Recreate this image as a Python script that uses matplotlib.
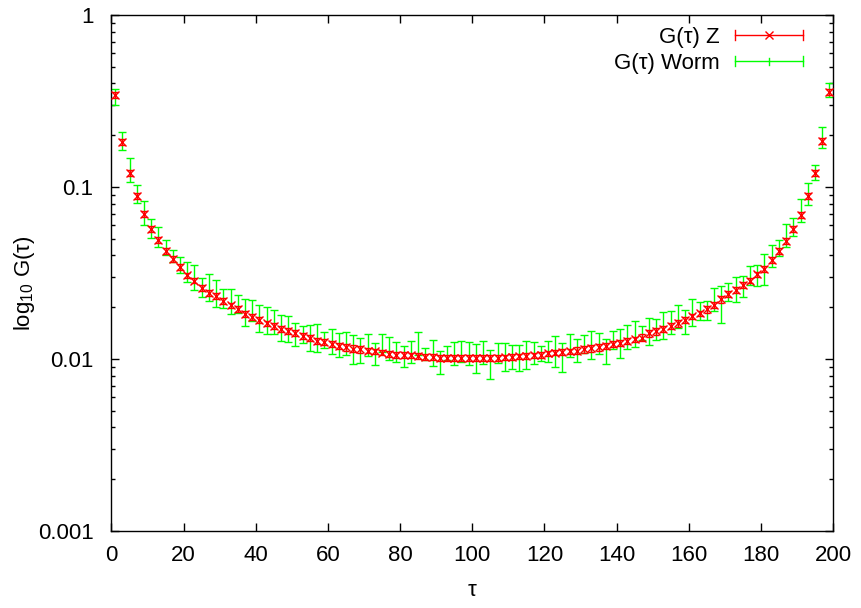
import numpy as np
import matplotlib
matplotlib.use("Agg")
import matplotlib.pyplot as plt
from matplotlib.lines import Line2D
from matplotlib.legend_handler import HandlerBase
from matplotlib.ticker import LogLocator, FixedLocator, NullFormatter

plt.rcParams['font.family'] = ['Liberation Sans', 'DejaVu Sans']
plt.rcParams['mathtext.fontset'] = 'custom'
plt.rcParams['mathtext.rm'] = 'Liberation Sans'
plt.rcParams['mathtext.it'] = 'Liberation Sans'

# ---------------- data ----------------
tau = list(range(1, 200, 2))

g_z = [0.3433, 0.1825, 0.1206, 0.0882, 0.0697, 0.0571, 0.0490, 0.0427, 0.0382, 0.0343,
       0.0306, 0.0286, 0.0259, 0.0243, 0.0232, 0.0217, 0.0205, 0.0196, 0.0183, 0.0176,
       0.0168, 0.0161, 0.0155, 0.0150, 0.0145, 0.0142, 0.0136, 0.0132, 0.0128, 0.0125,
       0.0122, 0.0119, 0.0117, 0.0115, 0.0114, 0.0112, 0.0111, 0.0109, 0.0107, 0.0106,
       0.0106, 0.0105, 0.01039, 0.01031, 0.01026, 0.01017, 0.01012, 0.01008, 0.01008, 0.01008,
       0.01008, 0.01008, 0.01012, 0.01017, 0.01022, 0.01031, 0.01035, 0.01039, 0.0105, 0.0106,
       0.01078, 0.0109, 0.01096, 0.01107, 0.0112, 0.0114, 0.01152, 0.0117, 0.0119, 0.0122,
       0.01243, 0.0127, 0.0130, 0.01329, 0.01408, 0.01446, 0.0150, 0.01555, 0.0161, 0.01686,
       0.01767, 0.01839, 0.0194, 0.0206, 0.0222, 0.0240, 0.0253, 0.0271, 0.0286, 0.0310,
       0.0334, 0.0378, 0.0427, 0.0488, 0.0571, 0.0690, 0.0890, 0.1206, 0.1856, 0.3558]

g_z_err = [0.0140, 0.0073, 0.0048, 0.0035, 0.0028, 0.0023, 0.0020, 0.0017, 0.0015, 0.0014,
           0.0012, 0.0011, 0.0010, 0.0010, 0.0009, 0.0009, 0.0008, 0.0008, 0.0007, 0.0007,
           0.0007, 0.0006, 0.0006, 0.0006, 0.0006, 0.0006, 0.0005, 0.0005, 0.0005, 0.0005,
           0.0005, 0.0005, 0.0005, 0.0005, 0.0005, 0.0004, 0.0004, 0.0004, 0.0004, 0.0004,
           0.0004, 0.0004, 0.0004, 0.0004, 0.0004, 0.0004, 0.0004, 0.0004, 0.0004, 0.0004,
           0.0004, 0.0004, 0.0004, 0.0004, 0.0004, 0.0004, 0.0004, 0.0004, 0.0004, 0.0004,
           0.0004, 0.0004, 0.0004, 0.0004, 0.0005, 0.0005, 0.0005, 0.0005, 0.0005, 0.0005,
           0.0005, 0.0005, 0.0005, 0.0006, 0.0006, 0.0006, 0.0006, 0.0006, 0.0007, 0.0007,
           0.0007, 0.0007, 0.0008, 0.0008, 0.0009, 0.0010, 0.0010, 0.0011, 0.0011, 0.0012,
           0.0013, 0.0015, 0.0017, 0.0020, 0.0023, 0.0028, 0.0036, 0.0048, 0.0074, 0.0142]

g_worm = [0.3356, 0.1862, 0.1272, 0.0918, 0.0716, 0.0578, 0.0517, 0.0447, 0.0398, 0.0354,
          0.0322, 0.0302, 0.0262, 0.0265, 0.0244, 0.0228, 0.0219, 0.0211, 0.0189, 0.0194,
          0.0175, 0.0170, 0.0166, 0.0154, 0.0152, 0.01404, 0.01403, 0.01352, 0.01352, 0.01299,
          0.01282, 0.01221, 0.01249, 0.01158, 0.01137, 0.01216, 0.01078, 0.01240, 0.01165, 0.01114,
          0.01046, 0.01110, 0.01246, 0.01075, 0.01104, 0.00966, 0.01088, 0.01092, 0.01117, 0.01088,
          0.01028, 0.01107, 0.00949, 0.01092, 0.01045, 0.01039, 0.01028, 0.01075, 0.01099, 0.01083,
          0.01117, 0.01125, 0.01042, 0.01211, 0.01132, 0.01228, 0.01224, 0.01237, 0.01125, 0.01299,
          0.01257, 0.01358, 0.01417, 0.01420, 0.01471, 0.01501, 0.01588, 0.01647, 0.01786, 0.01660,
          0.01897, 0.01920, 0.01927, 0.02247, 0.02137, 0.02468, 0.02562, 0.02662, 0.03076, 0.03097,
          0.03388, 0.04003, 0.04443, 0.05265, 0.05899, 0.07384, 0.09204, 0.1219, 0.1957, 0.3695]

g_worm_err = [0.0372, 0.0229, 0.0199, 0.0107, 0.0112, 0.00695, 0.00691, 0.00448, 0.00335, 0.00364,
              0.00430, 0.00512, 0.00322, 0.00471, 0.00424, 0.00289, 0.00366, 0.00248, 0.00328, 0.00277,
              0.00323, 0.00295, 0.00266, 0.00263, 0.00264, 0.00221, 0.00156, 0.00235, 0.00247, 0.00144,
              0.00206, 0.00196, 0.00187, 0.00217, 0.00187, 0.00175, 0.00154, 0.00149, 0.00179, 0.00149,
              0.00143, 0.00160, 0.00191, 0.00083, 0.00189, 0.00145, 0.00106, 0.00165, 0.00154, 0.00170,
              0.00195, 0.00167, 0.00180, 0.00150, 0.00191, 0.00162, 0.00172, 0.00204, 0.00159, 0.00111,
              0.00161, 0.00228, 0.00198, 0.00183, 0.00171, 0.00151, 0.00226, 0.00170, 0.00188, 0.00161,
              0.00238, 0.00212, 0.00237, 0.00127, 0.00261, 0.00217, 0.00282, 0.00257, 0.00267, 0.00259,
              0.00337, 0.00236, 0.00245, 0.00351, 0.00508, 0.00287, 0.00428, 0.00366, 0.00390, 0.00435,
              0.00679, 0.00578, 0.00475, 0.00795, 0.00725, 0.01154, 0.01328, 0.01221, 0.02693, 0.03555]

labels = ["G(\u03c4) Z", "G(\u03c4) Worm"]
colors = ["#ff0000", "#00ff00"]
x_ticks = [0, 20, 40, 60, 80, 100, 120, 140, 160, 180, 200]
y_ticks = [0.001, 0.01, 0.1, 1]
y_ticklabels = ["0.001", "0.01", "0.1", "1"]

# ---------------- figure ----------------
W, H, DPI = 861, 608, 100
fig = plt.figure(figsize=(W / DPI, H / DPI), dpi=DPI)
ax = fig.add_axes([111.5 / W, 1 - 531 / H, (833 - 111.5) / W, (531 - 15) / H])

FS = 16

ax.errorbar(tau, g_worm, yerr=g_worm_err, fmt='none', ecolor=colors[1],
            elinewidth=1.0, capsize=2.6, capthick=1.0, zorder=2)
ax.errorbar(tau, g_z, yerr=g_z_err, fmt='x', color=colors[0], ecolor=colors[0],
            markersize=6, markeredgewidth=1.0, elinewidth=1.0, capsize=2.4,
            capthick=1.0, zorder=3)

ax.set_yscale('log')
ax.set_xlim(0, 200)
ax.set_ylim(0.001, 1)
ax.xaxis.set_major_locator(FixedLocator(x_ticks))
ax.set_xticklabels([str(t) for t in x_ticks], fontsize=FS)
ax.yaxis.set_major_locator(FixedLocator(y_ticks))
ax.set_yticklabels(y_ticklabels, fontsize=FS)
ax.yaxis.set_minor_locator(LogLocator(base=10, subs=np.arange(2, 10)))
ax.yaxis.set_minor_formatter(NullFormatter())

ax.tick_params(which='major', direction='in', length=6, width=1, top=True, right=True)
ax.tick_params(axis='y', which='major', pad=13)
ax.tick_params(axis='x', which='major', pad=10)
ax.tick_params(which='minor', direction='in', length=3, width=1, top=False, right=True)
ax.tick_params(axis='x', which='minor', bottom=False, top=False)
for s in ax.spines.values():
    s.set_linewidth(1.0)

ax.set_xlabel("\u03c4", fontsize=FS, labelpad=10)
ax.set_ylabel("log$_{10}$ G(\u03c4)", fontsize=FS)
ax.yaxis.set_label_coords(-0.1033, 0.48)


class HandlerGP(HandlerBase):
    def create_artists(self, legend, orig_handle, xdescent, ydescent, width, height,
                       fontsize, trans):
        c = orig_handle.get_color()
        m = orig_handle.get_marker()
        y = height / 2.0 - ydescent
        x0, x1 = -xdescent, width - xdescent
        cap = 3.5
        arts = [Line2D([x0, x1], [y, y], color=c, lw=1.0),
                Line2D([x0, x0], [y - cap, y + cap], color=c, lw=1.0),
                Line2D([x1, x1], [y - cap, y + cap], color=c, lw=1.0)]
        xm = (x0 + x1) / 2.0
        if m == 'x':
            arts.append(Line2D([xm], [y], marker='x', color=c, markersize=6, mew=1.0))
        else:
            arts.append(Line2D([xm, xm], [y - 2.5, y + 2.5], color=c, lw=1.0))
        for a in arts:
            a.set_transform(trans)
        return arts


handles = [Line2D([], [], color=colors[0], marker='x'),
           Line2D([], [], color=colors[1], marker='|')]
leg = ax.legend(handles, labels, loc='upper right', bbox_to_anchor=(0.971, 0.994),
                frameon=False, fontsize=FS, markerfirst=False,
                handlelength=3.06, handletextpad=0.68, labelspacing=0.23,
                borderaxespad=0.0, borderpad=0.4,
                handler_map={Line2D: HandlerGP()})

fig.savefig("out.png", dpi=DPI)
